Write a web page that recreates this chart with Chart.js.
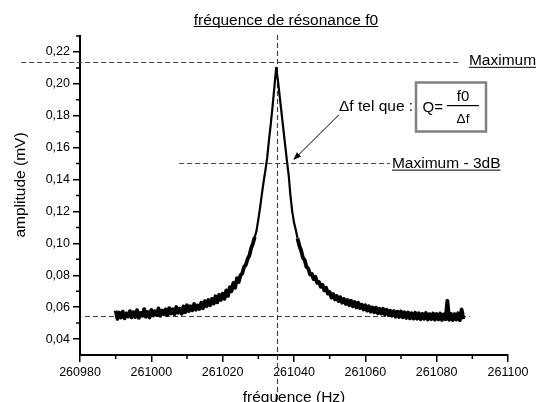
<!DOCTYPE html>
<html>
<head>
<meta charset="utf-8">
<title>fréquence de résonance f0</title>
<script src="https://cdn.jsdelivr.net/npm/chart.js@4.4.0/dist/chart.umd.min.js"></script>
<style>
  html, body { margin: 0; padding: 0; background: #fff; }
  canvas { display: block; }
</style>
</head>
<body>
<canvas id="chart" width="536" height="402"></canvas>
<script>
// frequency sweep, one sample every 0.5 Hz from 260990 Hz
const freqStart = 260990;
const freqStep = 0.5;
const amplitude = [
  0.0578, 0.0527, 0.0566, 0.0535, 0.0572, 0.0530, 0.0561, 0.0541, 0.0575, 0.0536,
  0.0569, 0.0538, 0.0581, 0.0533, 0.0564, 0.0546, 0.0588, 0.0540, 0.0570, 0.0535,
  0.0583, 0.0548, 0.0575, 0.0551, 0.0592, 0.0545, 0.0578, 0.0555, 0.0586, 0.0550,
  0.0594, 0.0560, 0.0587, 0.0556, 0.0601, 0.0565, 0.0590, 0.0559, 0.0605, 0.0568,
  0.0612, 0.0575, 0.0606, 0.0581, 0.0620, 0.0584, 0.0611, 0.0589, 0.0628, 0.0593,
  0.0638, 0.0606, 0.0645, 0.0612, 0.0652, 0.0622, 0.0668, 0.0630, 0.0677, 0.0645,
  0.0685, 0.0652, 0.0705, 0.0670, 0.0725, 0.0700, 0.0752, 0.0722, 0.0782, 0.0758,
  0.0800, 0.0812, 0.0852, 0.0866, 0.0902, 0.0925, 0.0970, 0.1000, 0.1040, 0.1080,
  0.1150, 0.1225, 0.1310, 0.1390, 0.1460, 0.1540, 0.1650, 0.1750, 0.1860, 0.1980,
  0.2100, 0.2020, 0.1920, 0.1820, 0.1720, 0.1620, 0.1520, 0.1430, 0.1300, 0.1200,
  0.1130, 0.1085, 0.1030, 0.0985, 0.0955, 0.0910, 0.0895, 0.0852, 0.0842, 0.0805,
  0.0808, 0.0775, 0.0790, 0.0752, 0.0758, 0.0728, 0.0740, 0.0705, 0.0722, 0.0685,
  0.0695, 0.0660, 0.0682, 0.0648, 0.0670, 0.0638, 0.0662, 0.0628, 0.0652, 0.0620,
  0.0645, 0.0612, 0.0640, 0.0605, 0.0632, 0.0598, 0.0628, 0.0594, 0.0615, 0.0585,
  0.0612, 0.0578, 0.0606, 0.0572, 0.0598, 0.0568, 0.0597, 0.0562, 0.0590, 0.0560,
  0.0590, 0.0555, 0.0584, 0.0550, 0.0578, 0.0546, 0.0575, 0.0540, 0.0572, 0.0538,
  0.0573, 0.0536, 0.0568, 0.0532, 0.0566, 0.0530, 0.0562, 0.0528, 0.0565, 0.0527,
  0.0562, 0.0524, 0.0558, 0.0527, 0.0563, 0.0522, 0.0556, 0.0525, 0.0560, 0.0521,
  0.0557, 0.0523, 0.0560, 0.0520, 0.0555, 0.0524, 0.0640, 0.0521, 0.0558, 0.0519,
  0.0556, 0.0522, 0.0562, 0.0518, 0.0585, 0.0525
];

const xTicks = [260980, 261000, 261020, 261040, 261060, 261080, 261100];
const xTickLabels = ['260980', '261000', '261020', '261040', '261060', '261080', '261100'];
const xMinorTicks = [260990, 261010, 261030, 261050, 261070, 261090];
const yTicks = [0.04, 0.06, 0.08, 0.10, 0.12, 0.14, 0.16, 0.18, 0.20, 0.22];
const yTickLabels = ['0,04', '0,06', '0,08', '0,10', '0,12', '0,14', '0,16', '0,18', '0,20', '0,22'];
const yMinorTicks = [0.05, 0.07, 0.09, 0.11, 0.13, 0.15, 0.17, 0.19, 0.21, 0.23];

// reference levels (mV) and resonance frequency (Hz)
const maxLevel = 0.2135;
const level3dB = 0.1503;
const baseLevel = 0.0546;
const f0 = 261035.2;
// horizontal extent of each dashed guide (Hz), vertical extent of the f0 guide (mV)
const maxSpan = [260963.5, 261086.8];
const span3dB = [261007.8, 261066.9];
const baseSpan = [260981.4, 261089.3];
const f0Span = [0.2306, 0.002];
// arrow pointing at the -3dB crossing: tail, head
const arrowFrom = [261052.6, 0.1806];
const arrowTo = [261039.8, 0.1522];
// the trace is drawn thinner across the narrow peak, where the noise is hidden
const peakBand = [261029, 261041];

const points = amplitude.map((a, i) => ({ x: freqStart + i * freqStep, y: a }));

const FONT = '"Liberation Sans", Arial, Helvetica, sans-serif';

function underlined(ctx, text, x, y, align) {
  ctx.textAlign = align || 'left';
  ctx.fillText(text, x, y);
  const w = ctx.measureText(text).width;
  const x0 = align === 'center' ? x - w / 2 : x;
  ctx.fillRect(x0, y + 1.5, w, 1);
}

const decorations = {
  id: 'decorations',
  beforeDatasetsDraw(chart) {
    const { ctx, scales: { x, y } } = chart;
    ctx.save();
    ctx.strokeStyle = '#444';
    ctx.lineWidth = 1.2;
    ctx.setLineDash([5, 3]);
    const hline = (v, span) => {
      const py = Math.round(y.getPixelForValue(v)) + 0.5;
      ctx.beginPath();
      ctx.moveTo(x.getPixelForValue(span[0]), py);
      ctx.lineTo(x.getPixelForValue(span[1]), py);
      ctx.stroke();
    };
    hline(maxLevel, maxSpan);
    hline(level3dB, span3dB);
    hline(baseLevel, baseSpan);
    const px = Math.round(x.getPixelForValue(f0)) + 0.5;
    ctx.beginPath();
    ctx.moveTo(px, y.getPixelForValue(f0Span[0]));
    ctx.lineTo(px, y.getPixelForValue(f0Span[1]));
    ctx.stroke();
    ctx.restore();
  },
  afterDraw(chart) {
    const { ctx, chartArea: area, scales: { x, y } } = chart;
    ctx.save();

    // minor ticks
    ctx.strokeStyle = '#000';
    ctx.lineWidth = 1.5;
    ctx.beginPath();
    xMinorTicks.forEach(v => {
      const px = x.getPixelForValue(v);
      ctx.moveTo(px, area.bottom);
      ctx.lineTo(px, area.bottom + 4);
    });
    yMinorTicks.forEach(v => {
      const py = y.getPixelForValue(v);
      ctx.moveTo(area.left, py);
      ctx.lineTo(area.left - 4, py);
    });
    ctx.stroke();

    ctx.fillStyle = '#000';
    ctx.textBaseline = 'alphabetic';
    ctx.font = '15.5px ' + FONT;

    // title
    underlined(ctx, 'fréquence de résonance f0', area.left + 206, 24.5, 'center');

    // axis titles
    ctx.textAlign = 'center';
    ctx.fillText('fréquence (Hz)', (area.left + area.right) / 2, 401.5);
    ctx.save();
    ctx.translate(25, 185);
    ctx.rotate(-Math.PI / 2);
    ctx.fillText('amplitude (mV)', 0, 0);
    ctx.restore();

    // level labels at the end of the dashed guides
    underlined(ctx, 'Maximum', x.getPixelForValue(maxSpan[1]) + 8, y.getPixelForValue(maxLevel) + 3);
    underlined(ctx, 'Maximum - 3dB', x.getPixelForValue(span3dB[1]) + 2, y.getPixelForValue(level3dB) + 5);

    // quality factor note
    ctx.textAlign = 'left';
    ctx.fillText('\u0394f tel que :', 339, 111);
    ctx.strokeStyle = '#808080';
    ctx.lineWidth = 2.5;
    ctx.strokeRect(416, 82.5, 70, 49);
    ctx.fillStyle = '#000';
    ctx.font = '15px ' + FONT;
    ctx.fillText('Q=', 422.5, 111.5);
    ctx.textAlign = 'center';
    ctx.fillText('f0', 463, 100.5);
    ctx.font = '13.5px ' + FONT;
    ctx.fillText('\u0394f', 463, 123);
    ctx.fillRect(447, 105, 32, 1.2);

    // arrow
    const ax = x.getPixelForValue(arrowFrom[0]), ay = y.getPixelForValue(arrowFrom[1]);
    const bx = x.getPixelForValue(arrowTo[0]), by = y.getPixelForValue(arrowTo[1]);
    const ang = Math.atan2(by - ay, bx - ax);
    ctx.strokeStyle = '#000';
    ctx.lineWidth = 1;
    ctx.beginPath();
    ctx.moveTo(ax, ay);
    ctx.lineTo(bx - 6 * Math.cos(ang), by - 6 * Math.sin(ang));
    ctx.stroke();
    ctx.beginPath();
    ctx.moveTo(bx, by);
    ctx.lineTo(bx - 8 * Math.cos(ang) + 3 * Math.sin(ang), by - 8 * Math.sin(ang) - 3 * Math.cos(ang));
    ctx.lineTo(bx - 8 * Math.cos(ang) - 3 * Math.sin(ang), by - 8 * Math.sin(ang) + 3 * Math.cos(ang));
    ctx.closePath();
    ctx.fill();

    ctx.restore();
  }
};

const tickFont = { family: FONT, size: 12.5 };

new Chart(document.getElementById('chart'), {
  type: 'line',
  data: {
    datasets: [{
      data: points,
      borderColor: '#000',
      borderWidth: 3.8,
      borderJoinStyle: 'round',
      pointRadius: 0,
      tension: 0,
      segment: {
        borderWidth: c => (c.p0.parsed.x >= peakBand[0] && c.p1.parsed.x <= peakBand[1]) ? 2.2 : 3.8
      }
    }]
  },
  options: {
    responsive: false,
    animation: false,
    events: [],
    layout: { padding: { top: 36, right: 28, left: 0, bottom: 0 } },
    plugins: { legend: { display: false }, tooltip: { enabled: false } },
    scales: {
      x: {
        type: 'linear',
        min: 260980,
        max: 261100,
        afterBuildTicks: s => { s.ticks = xTicks.map(v => ({ value: v })); },
        afterFit: s => { s.height = 47; },
        border: { color: '#000', width: 2 },
        grid: { drawOnChartArea: false, drawTicks: true, tickLength: 7, color: '#000', lineWidth: 1.5 },
        ticks: {
          color: '#000',
          font: tickFont,
          padding: 3,
          maxRotation: 0,
          autoSkip: false,
          callback: (v, i) => xTickLabels[i]
        }
      },
      y: {
        type: 'linear',
        min: 0.03,
        max: 0.23,
        afterBuildTicks: s => { s.ticks = yTicks.map(v => ({ value: v })); },
        afterFit: s => { s.width = 80; },
        border: { color: '#000', width: 2 },
        grid: { drawOnChartArea: false, drawTicks: true, tickLength: 7, color: '#000', lineWidth: 1.5 },
        ticks: {
          color: '#000',
          font: tickFont,
          padding: 3,
          autoSkip: false,
          callback: (v, i) => yTickLabels[i]
        }
      }
    }
  },
  plugins: [decorations]
});
</script>
</body>
</html>
